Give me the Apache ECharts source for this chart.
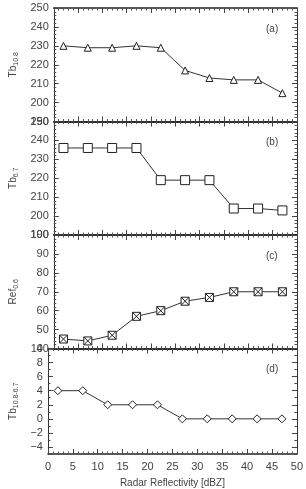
<!DOCTYPE html>
<html>
<head>
<meta charset="utf-8">
<script src="https://cdn.jsdelivr.net/npm/echarts@6/dist/echarts.min.js"></script>
<style>
html, body { margin: 0; padding: 0; background: #fff; }
#chart { width: 306px; height: 489px; }
</style>
</head>
<body>
<div id="chart"></div>
<script>
// radar reflectivity bins (dBZ)
var reflectivity = [2, 7, 12, 17, 22, 27, 32, 37, 42, 47];
var tb108 = [230, 229, 229, 230, 229, 217, 213, 212, 212, 205];
var tb67 = [236, 236, 236, 236, 219, 219, 219, 204, 204, 203];
var ref06 = [45, 44, 47, 57, 60, 65, 67, 70, 70, 70];
var tbDiff = [4, 4, 2, 2, 2, 0, 0, 0, 0, 0];
var diffTicks = [-4, -2, 0, 2, 4, 6, 8, 10];

var panelLabels = ['(a)', '(b)', '(c)', '(d)'];
var yNames = ['{t|Tb}{s|10.8}', '{t|Tb}{s|6.7}', '{t|Ref}{s|0.6}', '{t|Tb}{s|10.8-6.7}'];
var yRanges = [[190, 250, 10], [190, 250, 10], [40, 100, 10], [-5, 10, 1]];
var symbols = [
	'triangle',
	'rect',
	'path://M0,0L10,0L10,10L0,10ZM0,0L10,10M10,0L0,10',
	'diamond'
];
var symbolSizes = [7, 9, 8, 8];
var allData = [tb108, tb67, ref06, tbDiff];

var chart = echarts.init(document.getElementById('chart'));
var txt = '#444';
var font = 'Liberation Sans';
var tops = [8, 121.5, 235, 348.5];
var h = 113.5;

var grids = [], xAxes = [], yAxes = [], series = [], graphics = [];

function yAxis(i, pos, main, minorOnly) {
	var r = yRanges[i];
	var a = {
		type: 'value', gridIndex: i, min: r[0], max: r[1], interval: r[2], position: pos,
		axisLine: { show: !minorOnly, onZero: false, lineStyle: { color: '#333' } },
		axisTick: { inside: true, length: minorOnly ? 2.5 : 5, lineStyle: { color: '#444' } },
		minorTick: { show: i < 3, splitNumber: 5, length: 2.5, lineStyle: { color: '#555' } },
		axisLabel: { show: false },
		splitLine: { show: false }
	};
	if (i == 3 && !minorOnly) {
		a.axisTick.customValues = diffTicks;
	}
	if (main) {
		a.axisLabel = {
			color: txt, fontFamily: font, fontSize: 11, margin: 5,
			showMinLabel: true, showMaxLabel: true,
			formatter: function (v) { return String(v).replace('-', '\u2212'); }
		};
		if (i == 3) a.axisLabel.customValues = diffTicks;
		a.name = yNames[i];
		a.nameLocation = 'middle';
		a.nameRotate = 90;
		a.nameGap = 24;
		a.nameTextStyle = {
			rich: {
				t: { color: txt, fontFamily: font, fontSize: 10 },
				s: { color: txt, fontFamily: font, fontSize: 7, verticalAlign: 'bottom', padding: [6, 0, 0, 0] }
			}
		};
	}
	return a;
}

for (var i = 0; i < 4; i++) {
	grids.push({ left: 37, right: 9, top: tops[i], height: h });
	var last = (i == 3);
	// bottom x axis
	xAxes.push({
		type: 'value', gridIndex: i, min: 0, max: 50, interval: 5, position: 'bottom',
		axisLine: { onZero: false, lineStyle: { color: '#222', width: 1.5 } },
		axisTick: { inside: true, length: 5, lineStyle: { color: '#444' } },
		minorTick: { show: true, splitNumber: 5, length: 2.5, lineStyle: { color: '#555' } },
		axisLabel: { show: last, color: txt, fontFamily: font, fontSize: 11, margin: 7 },
		splitLine: { show: false },
		name: last ? 'Radar Reflectivity [dBZ]' : '',
		nameLocation: 'middle', nameGap: 24,
		nameTextStyle: { color: txt, fontFamily: font, fontSize: 10 }
	});
	// top x axis (mirrored ticks)
	xAxes.push({
		type: 'value', gridIndex: i, min: 0, max: 50, interval: 5, position: 'top',
		axisLine: { onZero: false, lineStyle: { color: '#222', width: 1.5 } },
		axisTick: { inside: true, length: 5, lineStyle: { color: '#444' } },
		minorTick: { show: true, splitNumber: 5, length: 2.5, lineStyle: { color: '#555' } },
		axisLabel: { show: false },
		splitLine: { show: false }
	});
	var pts = [];
	for (var j = 0; j < reflectivity.length; j++) {
		pts.push([reflectivity[j], allData[i][j]]);
	}
	series.push({
		type: 'line', xAxisIndex: i * 2, yAxisIndex: yAxes.length, data: pts,
		symbol: symbols[i], symbolSize: symbolSizes[i], showAllSymbol: true,
		lineStyle: { color: '#333', width: 1 },
		itemStyle: { color: '#fff', borderColor: '#222', borderWidth: 1 },
		emphasis: { disabled: true },
		animation: false
	});
	yAxes.push(yAxis(i, 'left', true, false));
	yAxes.push(yAxis(i, 'right', false, false));
	if (i == 3) {
		// minor ticks at every unit for the difference panel
		yAxes.push(yAxis(i, 'left', false, true));
		yAxes.push(yAxis(i, 'right', false, true));
	}
	graphics.push({
		type: 'text', left: 266, top: tops[i] + 16,
		style: { text: panelLabels[i], fill: txt, font: '10px "Liberation Sans"' }
	});
}

var option = {
	animation: false,
	grid: grids,
	xAxis: xAxes,
	yAxis: yAxes,
	series: series,
	graphic: graphics
};
chart.setOption(option);
</script>
</body>
</html>
